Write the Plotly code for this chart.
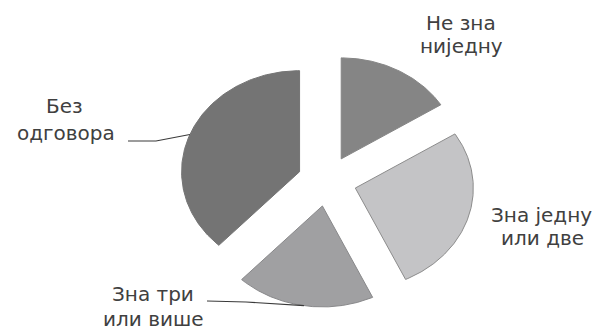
import numpy as np
import plotly.graph_objects as go

# Survey answers: how many items the respondent knows (percent of respondents)
categories = ["Не зна ниједну", "Зна једну или две", "Зна три или више", "Без одговора"]
shares = [16, 27, 19, 38]
label_lines = [["Не зна", "ниједну"], ["Зна једну", "или две"],
               ["Зна три", "или више"], ["Без", "одговора"]]

# Styling
fills = ["#858585", "#c4c4c6", "#a0a0a2", "#747474"]
outlines = ["#858585", "#8c8c8c", "#88888a", "#747474"]
text_color = "#404040"
font_family = "DejaVu Sans"
font_size = 20

W, H = 599, 331
CX, CY = 327, 181      # pie centre in px
RX, RY = 118, 101      # horizontal / vertical radius in px (tilted pie)
PULL = 0.25            # explosion as a fraction of the radius

# label anchor points in px: (centre x, middle y) for each text line
label_pos = [[(461, 23), (461, 46)], [(541, 215), (542, 238)],
             [(153, 294), (153, 319)], [(64, 106), (66, 133)]]
# leader line start and knee (px) for labels that have one
leaders = {3: [(128, 141), (156, 141)], 2: [(207, 301), (246, 302)]}


def to_data(xp, yp):
    return (xp - CX) / RX, (CY - yp) / RY


fig = go.Figure()

total = float(sum(shares))
cum = 0.0
mids = []
offsets = []
for i, (cat, v) in enumerate(zip(categories, shares)):
    a0 = 2 * np.pi * cum / total
    a1 = 2 * np.pi * (cum + v) / total
    cum += v
    mid = 0.5 * (a0 + a1)
    ox, oy = PULL * np.sin(mid), PULL * np.cos(mid)
    mids.append(mid)
    offsets.append((ox, oy))
    t = np.linspace(a0, a1, 160)
    xs = np.concatenate([[ox], ox + np.sin(t), [ox]])
    ys = np.concatenate([[oy], oy + np.cos(t), [oy]])
    fig.add_trace(go.Scatter(
        x=xs, y=ys, mode="lines", fill="toself", fillcolor=fills[i],
        line=dict(color=outlines[i], width=1), name=cat,
        hoverinfo="name", showlegend=False))

# leader lines from labels to the middle of the slice rim
for i, pts in leaders.items():
    ox, oy = offsets[i]
    ex, ey = ox + np.sin(mids[i]), oy + np.cos(mids[i])
    xs, ys = zip(*[to_data(*p) for p in pts])
    fig.add_trace(go.Scatter(
        x=list(xs) + [ex], y=list(ys) + [ey], mode="lines",
        line=dict(color="#3a3a3a", width=1.2), hoverinfo="skip",
        showlegend=False))

annotations = []
for lines, pos in zip(label_lines, label_pos):
    for txt, (xp, yp) in zip(lines, pos):
        annotations.append(dict(
            text=txt, x=xp / W, y=1 - yp / H, xref="paper", yref="paper",
            xanchor="center", yanchor="middle", showarrow=False,
            font=dict(family=font_family, size=font_size, color=text_color)))

fig.update_layout(
    width=W, height=H, autosize=False,
    margin=dict(l=0, r=0, t=0, b=0),
    paper_bgcolor="white", plot_bgcolor="white",
    xaxis=dict(range=[-CX / RX, (W - CX) / RX], visible=False, fixedrange=True),
    yaxis=dict(range=[-(H - CY) / RY, CY / RY], visible=False, fixedrange=True),
    annotations=annotations,
)

fig.write_html("out.html")
